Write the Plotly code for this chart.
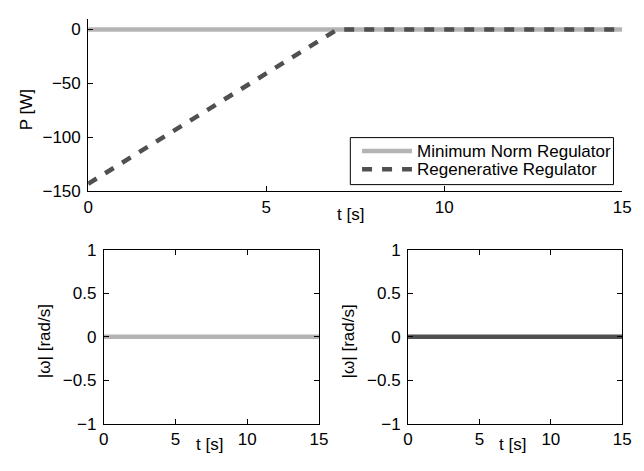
import plotly.graph_objects as go

# Power trace: time samples and the two regulators' power
t_power = [0, 7, 15]
p_min_norm = [0, 0, 0]
p_regen = [-143, 0, 0]

# Angular speed traces
t_omega = [0, 15]
omega_min_norm = [0, 0]
omega_regen = [0, 0]

x_ticks = [0, 5, 10, 15]
p_ticks = [0, -50, -100, -150]
omega_ticks = [-1, -0.5, 0, 0.5, 1]

series_names = ["Minimum Norm Regulator", "Regenerative Regulator"]

LIGHT = "#b4b4b4"
DARK = "#505050"
DASH = "10px,10px"
FONT = "Liberation Sans, Arial, Helvetica, sans-serif"
TICK_SIZE = 17
W, H = 644, 471


def px_x(a, b):
    return [a / W, b / W]


def px_y(top, bottom):
    return [1 - bottom / H, 1 - top / H]


def fx(p):
    return p / W


def fy(p):
    return 1 - p / H


fig = go.Figure()

fig.add_trace(go.Scatter(x=t_power, y=p_min_norm, mode="lines", name=series_names[0],
                         line=dict(color=LIGHT, width=4.5), xaxis="x", yaxis="y"))
fig.add_trace(go.Scatter(x=t_power, y=p_regen, mode="lines", name=series_names[1],
                         line=dict(color=DARK, width=4.5, dash=DASH), xaxis="x", yaxis="y"))
fig.add_trace(go.Scatter(x=t_omega, y=omega_min_norm, mode="lines", name=series_names[0],
                         line=dict(color=LIGHT, width=4.5), xaxis="x2", yaxis="y2"))
fig.add_trace(go.Scatter(x=t_omega, y=omega_regen, mode="lines", name=series_names[1],
                         line=dict(color=DARK, width=4.5), xaxis="x3", yaxis="y3"))

common = dict(showgrid=False, zeroline=False, showline=True, linecolor="black", linewidth=1,
              ticks="inside", ticklen=5, tickcolor="black", tickwidth=1,
              tickfont=dict(family=FONT, size=TICK_SIZE, color="black"))

fig.update_layout(
    width=W, height=H,
    margin=dict(l=0, r=0, t=0, b=0),
    paper_bgcolor="white", plot_bgcolor="white",
    font=dict(family=FONT, size=TICK_SIZE, color="black"),
    showlegend=False,
    xaxis=dict(domain=px_x(85, 631), range=[0, 15], tickvals=x_ticks, anchor="y",
               mirror=False, **common),
    yaxis=dict(domain=px_y(10, 190), range=[-150, 10], tickvals=p_ticks, anchor="x",
               mirror=False, ticklabelstandoff=3, **common),
    xaxis2=dict(domain=px_x(101, 321), range=[0, 15], tickvals=x_ticks, anchor="y2",
                mirror="ticks", **common),
    yaxis2=dict(domain=px_y(251, 432), range=[-1, 1], tickvals=omega_ticks, anchor="x2",
                mirror="ticks", ticklabelstandoff=3, **common),
    xaxis3=dict(domain=px_x(412, 631), range=[0, 15], tickvals=x_ticks, anchor="y3",
                mirror="ticks", **common),
    yaxis3=dict(domain=px_y(251, 432), range=[-1, 1], tickvals=omega_ticks, anchor="x3",
                mirror="ticks", ticklabelstandoff=3, **common),
)

# Axis titles
titles = [
    ("t [s]", 353, 214, 0),
    ("P [W]", 22, 105, -90),
    ("t [s]", 209, 454, 0),
    ("|ω| [rad/s]", 40, 346, -90),
    ("t [s]", 519, 454, 0),
    ("|ω| [rad/s]", 351, 346, -90),
]
for text, x, y, ang in titles:
    fig.add_annotation(text=text, x=fx(x), y=fy(y), xref="paper", yref="paper",
                       xanchor="center", yanchor="middle", showarrow=False, textangle=ang,
                       font=dict(family=FONT, size=TICK_SIZE, color="black"))

# Legend box for the power panel
fig.add_shape(type="rect", xref="paper", yref="paper",
              x0=fx(353), x1=fx(622), y0=fy(183), y1=fy(134),
              line=dict(color="black", width=1), fillcolor="white", layer="above")
legend_rows = [(series_names[0], LIGHT, "solid", 148), (series_names[1], DARK, DASH, 167)]
for name, color, dash, y in legend_rows:
    fig.add_shape(type="line", xref="paper", yref="paper",
                  x0=fx(365), x1=fx(416), y0=fy(y), y1=fy(y),
                  line=dict(color=color, width=4.5, dash=dash), layer="above")
    fig.add_annotation(text=name, x=fx(419), y=fy(y), xref="paper", yref="paper",
                       xanchor="left", yanchor="middle", showarrow=False,
                       font=dict(family=FONT, size=17, color="black"))

fig.write_html("out.html")
